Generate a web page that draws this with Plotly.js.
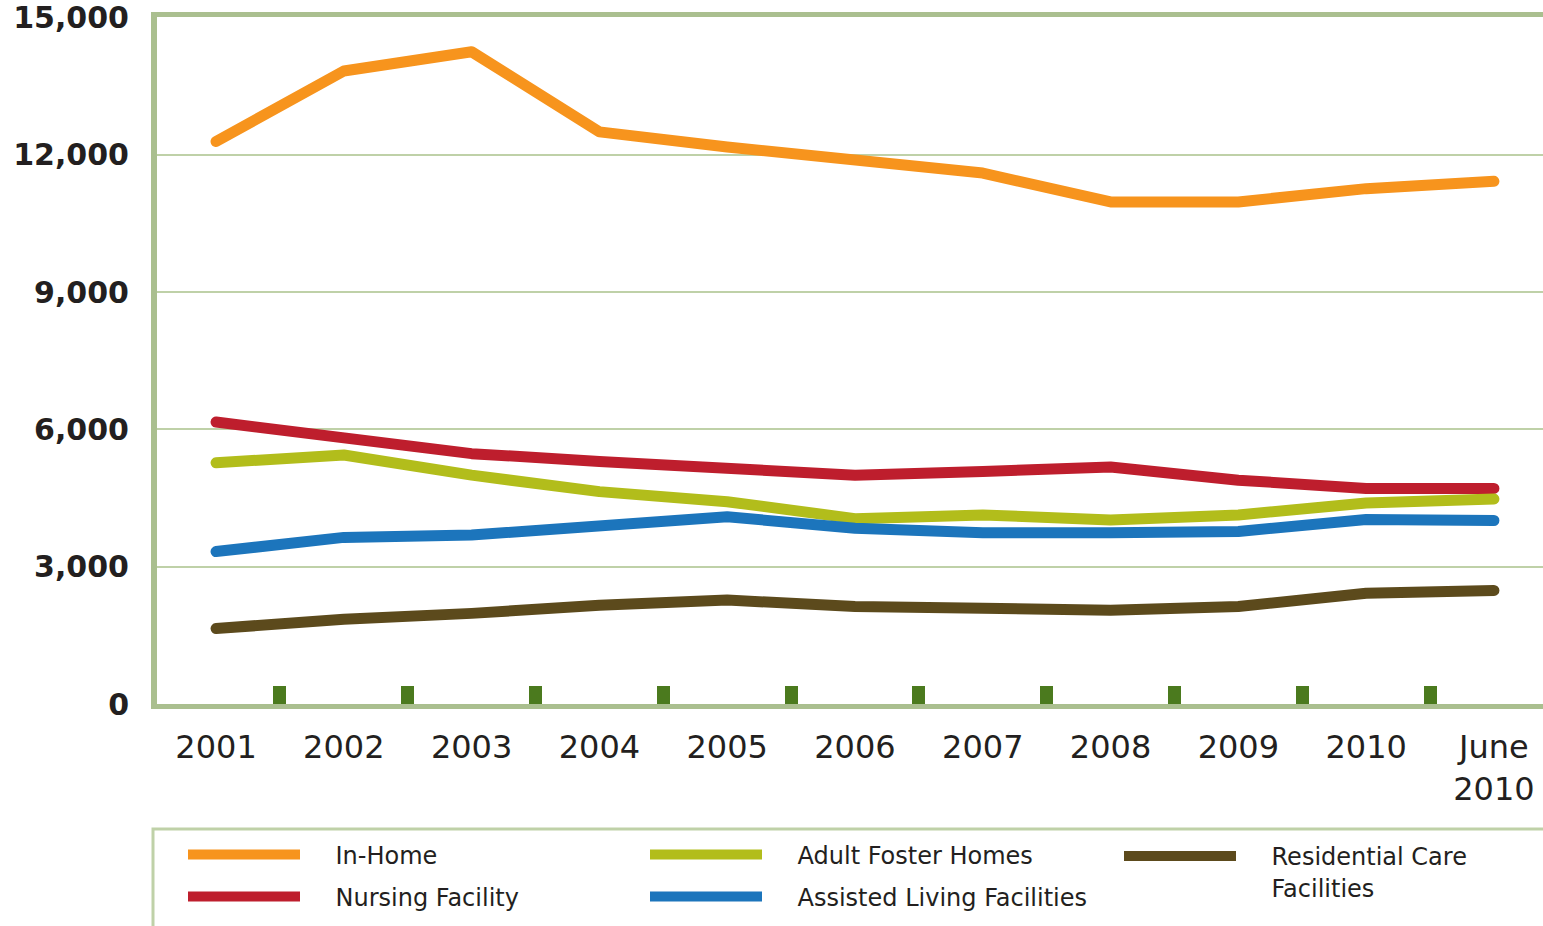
<!DOCTYPE html>
<html>
<head>
<meta charset="utf-8">
<script src="https://cdn.plot.ly/plotly-3.0.1.min.js"></script>
<style>
html, body { margin: 0; padding: 0; background: #ffffff; }
#chart { width: 1543px; height: 926px; }
.scatterlayer .js-line { stroke-linecap: round; stroke-linejoin: round; }
</style>
</head>
<body>
<div id="chart"></div>
<script>
// ---- data ----
const categories = ['2001', '2002', '2003', '2004', '2005', '2006', '2007', '2008', '2009', '2010', 'June<br>2010'];
const inHome      = [12290, 13830, 14250, 12500, 12170, 11890, 11600, 10970, 10970, 11260, 11420];
const nursing     = [6160, 5840, 5470, 5300, 5130, 5000, 5080, 5180, 4890, 4710, 4710];
const adultFoster = [5270, 5440, 5000, 4640, 4420, 4050, 4130, 4020, 4130, 4390, 4480];
const assisted    = [3330, 3640, 3690, 3880, 4090, 3840, 3740, 3740, 3770, 4030, 4010];
const residential = [1650, 1850, 1980, 2160, 2270, 2130, 2090, 2050, 2130, 2420, 2480];
const yTickVals   = [0, 3000, 6000, 9000, 12000, 15000];
const yTickText   = ['0', '3,000', '6,000', '9,000', '12,000', '15,000'];
const seriesNames = ['In-Home', 'Nursing Facility', 'Adult Foster Homes', 'Assisted Living Facilities', 'Residential Care<br>Facilities'];

// ---- styling ----
const pad = '\u00a0\u00a0\u00a0\u00a0';
const colors = ['#f7941d', '#be1e2d', '#b2bd1b', '#1c75bc', '#5c4a1c'];
const values = [inHome, nursing, adultFoster, assisted, residential];
const legendIds = ['legend', 'legend2', 'legend3', 'legend4', 'legend5'];

const W = 1543, H = 926;
const M = { l: 157, r: 0, t: 17, b: 222 };
const pw = W - M.l - M.r, ph = H - M.t - M.b;
const px = x => (x - M.l) / pw;           // pixel -> paper x
const py = y => (H - M.b - y) / ph;       // pixel -> paper y

const traces = values.map((v, i) => ({
  type: 'scatter',
  mode: 'lines',
  x: categories,
  y: v,
  name: seriesNames[i].split('<br>').map(s => pad + s).join('<br>'),
  legend: legendIds[i],
  line: { color: colors[i], width: 11 },
  hoverinfo: 'skip'
}));

const legendFont = { family: 'DejaVu Sans', size: 24, color: '#231f20' };
function leg(xPix, yPix, anchorY) {
  return {
    x: px(xPix), y: py(yPix), xanchor: 'left', yanchor: anchorY,
    xref: 'paper', yref: 'paper',
    bgcolor: 'rgba(0,0,0,0)', borderwidth: 0,
    font: legendFont, itemwidth: 112, valign: 'top',
    itemclick: false, itemdoubleclick: false
  };
}

const layout = {
  width: W, height: H,
  margin: Object.assign({ autoexpand: false }, M),
  paper_bgcolor: '#ffffff',
  plot_bgcolor: '#ffffff',
  showlegend: true,
  xaxis: {
    type: 'category',
    range: [-0.462, 10.384],
    tickson: 'boundaries',
    ticks: 'inside',
    ticklen: 18,
    tickwidth: 13,
    tickcolor: '#4b7a1e',
    showgrid: false,
    showline: true,
    linecolor: '#aabf8f',
    linewidth: 5,
    mirror: true,
    zeroline: false,
    ticklabelstandoff: 11,
    ticklabeloverflow: 'allow',
    tickfont: { family: 'DejaVu Sans', size: 32, color: '#231f20' },
    fixedrange: true
  },
  yaxis: {
    range: [0, 15010],
    tickvals: yTickVals,
    ticktext: yTickText,
    showgrid: true,
    gridcolor: '#bfd1a8',
    gridwidth: 2,
    showline: true,
    linecolor: '#aabf8f',
    linewidth: 6,
    zeroline: false,
    ticks: '',
    ticklabelstandoff: 16,
    ticklabeloverflow: 'allow',
    tickfont: { family: 'DejaVu Sans', size: 30, color: '#231f20', weight: 'bold' },
    fixedrange: true
  },
  legend:  leg(183, 855, 'middle'),
  legend2: leg(183, 897, 'middle'),
  legend3: leg(645, 855, 'middle'),
  legend4: leg(645, 897, 'middle'),
  legend5: leg(1119, 834, 'top'),
  shapes: [{
    type: 'rect', xref: 'paper', yref: 'paper',
    x0: px(153), x1: px(1600), y0: py(829), y1: py(1000),
    line: { color: '#bfd1a8', width: 3 }, fillcolor: 'rgba(0,0,0,0)'
  }]
};

Plotly.newPlot('chart', traces, layout, { displayModeBar: false, staticPlot: true });
</script>
</body>
</html>
